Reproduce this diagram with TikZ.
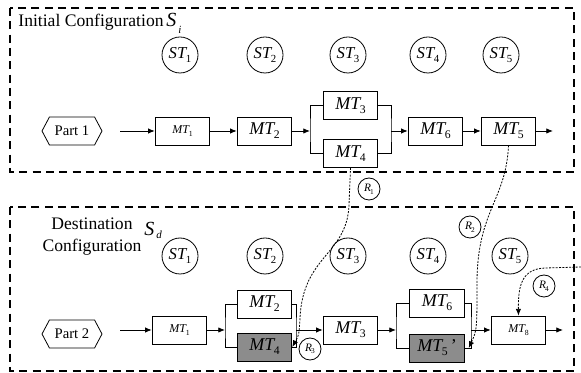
\documentclass[tikz,border=0pt]{standalone}
\usepackage{fontspec}
\setmainfont{Liberation Serif}
\usetikzlibrary{shapes,arrows.meta,positioning}
\tikzstyle{frame} = [draw,line width=0.9pt,dash pattern=on 6pt off 4pt]
\tikzstyle{machine} = [draw,rectangle,minimum width=41pt,minimum height=21pt,inner sep=0,font=\fontsize{13.5}{15}\selectfont]
\tikzstyle{smallmachine} = [machine,font=\fontsize{9}{10}\selectfont]
\tikzstyle{moved} = [machine,fill=black!45]
\tikzstyle{station} = [draw,circle,minimum size=27pt,inner sep=0,font=\fontsize{12.5}{14}\selectfont]
\tikzstyle{part} = [draw,signal,signal to=east and west,signal pointer angle=124,minimum width=45pt,minimum height=21pt,inner sep=0,font=\fontsize{11}{12}\selectfont]
\tikzstyle{rule} = [draw,circle,minimum size=16.5pt,inner sep=0,fill=white,font=\fontsize{8.5}{9}\selectfont]
\tikzstyle{flow} = [-{Latex[length=5pt,width=4pt]}]
\tikzstyle{move} = [dash pattern=on 1.5pt off 1pt,-{Latex[length=5pt,width=4pt]}]
\tikzstyle{caption} = [font=\fontsize{13.2}{16.5}\selectfont,inner sep=0]
\tikzstyle{config} = [font=\fontsize{15}{16}\selectfont,inner sep=0]
\newcommand{\tsub}[2]{\textit{#1}\kern-0.08em\raisebox{-0.5ex}{\scalebox{0.65}{#2}}}

\begin{document}
\begin{tikzpicture}[x=0.75pt,y=-0.75pt,line width=0.6pt]
  \useasboundingbox (0,0) rectangle (581,373);
  % initial configuration
  \draw[frame] (10,8) rectangle (574,172);
  \node[caption,anchor=base west] (ititle) at (18,27) {Initial Configuration};
  \node[config,anchor=base west] (isi) at (166,27) {\textit{S}\kern0.1em\raisebox{-0.7ex}{\scalebox{0.55}{\textit{i}}}};
  \node[station] (ist1) at (180,55) {\tsub{ST}{1}};
  \node[station] (ist2) at (265,55) {\tsub{ST}{2}};
  \node[station] (ist3) at (348,55) {\tsub{ST}{3}};
  \node[station] (ist4) at (428,55) {\tsub{ST}{4}};
  \node[station] (ist5) at (501,55) {\tsub{ST}{5}};
  \node[part] (ipart) at (72,131) {Part 1};
  \node[smallmachine] (imt1) at (182.5,131) {\tsub{MT}{1}};
  \node[machine] (imt2) at (264.5,131) {\tsub{MT}{2}};
  \node[machine] (imt3) at (350.5,105.5) {\tsub{MT}{3}};
  \node[machine] (imt4) at (350.5,153.5) {\tsub{MT}{4}};
  \node[machine] (imt6) at (435.5,131) {\tsub{MT}{6}};
  \node[machine] (imt5) at (508.5,131) {\tsub{MT}{5}};
  \coordinate (iin) at (120,131);
  \coordinate (isplit) at (310,131);
  \coordinate (ijoin) at (391,131);
  \coordinate (iout) at (553,131);
  \draw[flow] (iin) -- (imt1);
  \draw[flow] (imt1) -- (imt2);
  \draw[flow] (imt2) -- (isplit);
  \draw (imt3.west) -| (isplit) |- (imt4.west);
  \draw (imt3.east) -| (ijoin) |- (imt4.east);
  \draw[flow] (ijoin) -- (imt6);
  \draw[flow] (imt6) -- (imt5);
  \draw[flow] (imt5) -- (iout);
  % destination configuration
  \draw[frame] (10,207) rectangle (574,371);
  \node[caption,align=center] (dtitle) at (92,237) {Destination\\Configuration};
  \node[config,anchor=base west] (dsd) at (144,236) {\textit{S}\kern0.1em\raisebox{-0.3ex}{\scalebox{0.55}{\textit{d}}}};
  \node[station] (dst1) at (180,256) {\tsub{ST}{1}};
  \node[station] (dst2) at (265,256) {\tsub{ST}{2}};
  \node[station] (dst3) at (348,256) {\tsub{ST}{3}};
  \node[station] (dst4) at (428,256) {\tsub{ST}{4}};
  \node[station] (dst5) at (510,256) {\tsub{ST}{5}};
  \node[part] (dpart) at (72,334) {Part 2};
  \node[smallmachine] (dmt1) at (179.5,330) {\tsub{MT}{1}};
  \node[machine] (dmt2) at (264.5,304) {\tsub{MT}{2}};
  \node[moved] (dmt4) at (264.5,347) {\tsub{MT}{4}};
  \node[machine] (dmt3) at (350.5,330) {\tsub{MT}{3}};
  \node[machine] (dmt6) at (437,303) {\tsub{MT}{6}};
  \node[moved] (dmt5) at (437,348) {\tsub{MT}{5}\,'};
  \node[smallmachine] (dmt8) at (518.5,330) {\tsub{MT}{8}};
  \coordinate (din) at (120,330);
  \coordinate (dsplit) at (225,330);
  \coordinate (djoin) at (296,330);
  \coordinate (dsplitb) at (396,330);
  \coordinate (djoinb) at (471,330);
  \coordinate (dout) at (563,330);
  \draw[flow] (din) -- (dmt1);
  \draw[flow] (dmt1) -- (dsplit);
  \draw (dmt2.west) -| (dsplit) |- (dmt4.west);
  \draw (dmt2.east) -| (djoin) |- (dmt4.east);
  \draw[flow] (djoin) -- (dmt3);
  \draw[flow] (dmt3) -- (dsplitb);
  \draw (dmt6.west) -| (dsplitb) |- (dmt5.west);
  \draw (dmt6.east) -| (djoinb) |- (dmt5.east);
  \draw[flow] (djoinb) -- (dmt8);
  \draw[flow] (dmt8) -- (dout);
  % reconfiguration moves
  \coordinate (r4src) at (581,267);
  \draw[move] (imt4.south) -- (349,205) .. controls (347,255) and (303,255) .. (300,318) .. controls (299,335) .. (dmt4.east);
  \draw[move] (imt5.south) .. controls (506,200) and (478,210) .. (477,280) .. controls (477,330) .. ([xshift=3pt]dmt5.east);
  \draw[move] (r4src) -- (545,268) .. controls (522,269) and (518,285) .. (dmt8.north);
  \node[rule] (r1) at (369,189) {\tsub{R}{1}};
  \node[rule] (r2) at (470,227) {\tsub{R}{2}};
  \node[rule] (r3) at (310,349) {\tsub{R}{3}};
  \node[rule] (r4) at (544,286) {\tsub{R}{4}};
\end{tikzpicture}
\end{document}
